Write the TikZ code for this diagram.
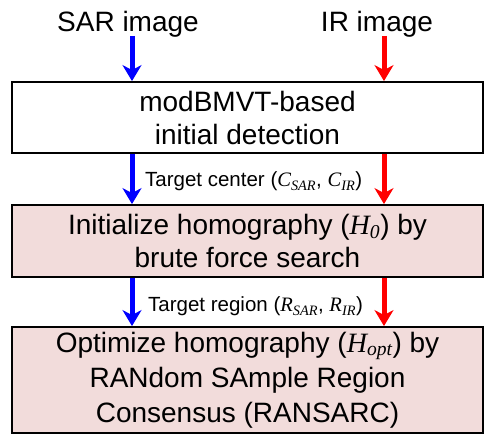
\documentclass[tikz,border=0pt]{standalone}
\usepackage{fontspec}
\setmainfont{Liberation Sans}
\newfontfamily\tms{Liberation Serif}
\usetikzlibrary{arrows.meta,calc}
\definecolor{boxpink}{RGB}{242,220,219}
\newcommand{\symb}[2]{{\tms\itshape #1\textsubscript{#2}}}

\begin{document}
\begin{tikzpicture}[x=1pt,y=-1pt,
  stepbox/.style={draw,line width=1.8pt,minimum width=471pt,align=center,inner sep=0pt},
  big/.style={font=\fontsize{28}{33}\selectfont},
  note/.style={font=\fontsize{20.5}{22}\selectfont,anchor=base west,inner sep=0pt},
  flow/.style={line width=5pt,-{Stealth[length=16pt,width=19pt,inset=5pt]}}]
\useasboundingbox (0,0) rectangle (485,435);
\node[big,anchor=base,inner sep=0pt](sar)at(128,32){SAR image};\node[big,anchor=base,inner sep=0pt](ir)at(377,32){IR image};
\node[stepbox,big,minimum height=71pt](det)at(247.5,117.5){modBMVT-based\\initial detection};
\node[stepbox,big,fill=boxpink,minimum height=72pt](init)at(247.5,241){Initialize homography (\symb{H}{0}) by\\brute force search};
\node[stepbox,font=\fontsize{28}{35}\selectfont,fill=boxpink,minimum height=106pt](opt)at(247.5,380){Optimize homography (\symb{H}{opt}) by\\RANdom SAmple Region\\Consensus (RANSARC)};
\coordinate(bx)at(132,0);\coordinate(rx)at(384,0);
\draw[flow,blue](bx|-sar.base)++(0,4)--(bx|-det.north);\draw[flow,red](rx|-ir.base)++(0,4)--(rx|-det.north);
\draw[flow,blue](bx|-det.south)--(bx|-init.north);\draw[flow,red](rx|-det.south)--(rx|-init.north);
\draw[flow,blue](bx|-init.south)--(bx|-opt.north);\draw[flow,red](rx|-init.south)--(rx|-opt.north);
\node[note](cen)at(145,187){Target center (\symb{C}{SAR}, \symb{C}{IR})};
\node[note](reg)at(148,312){Target region (\symb{R}{SAR}, \symb{R}{IR})};
\end{tikzpicture}
\end{document}
